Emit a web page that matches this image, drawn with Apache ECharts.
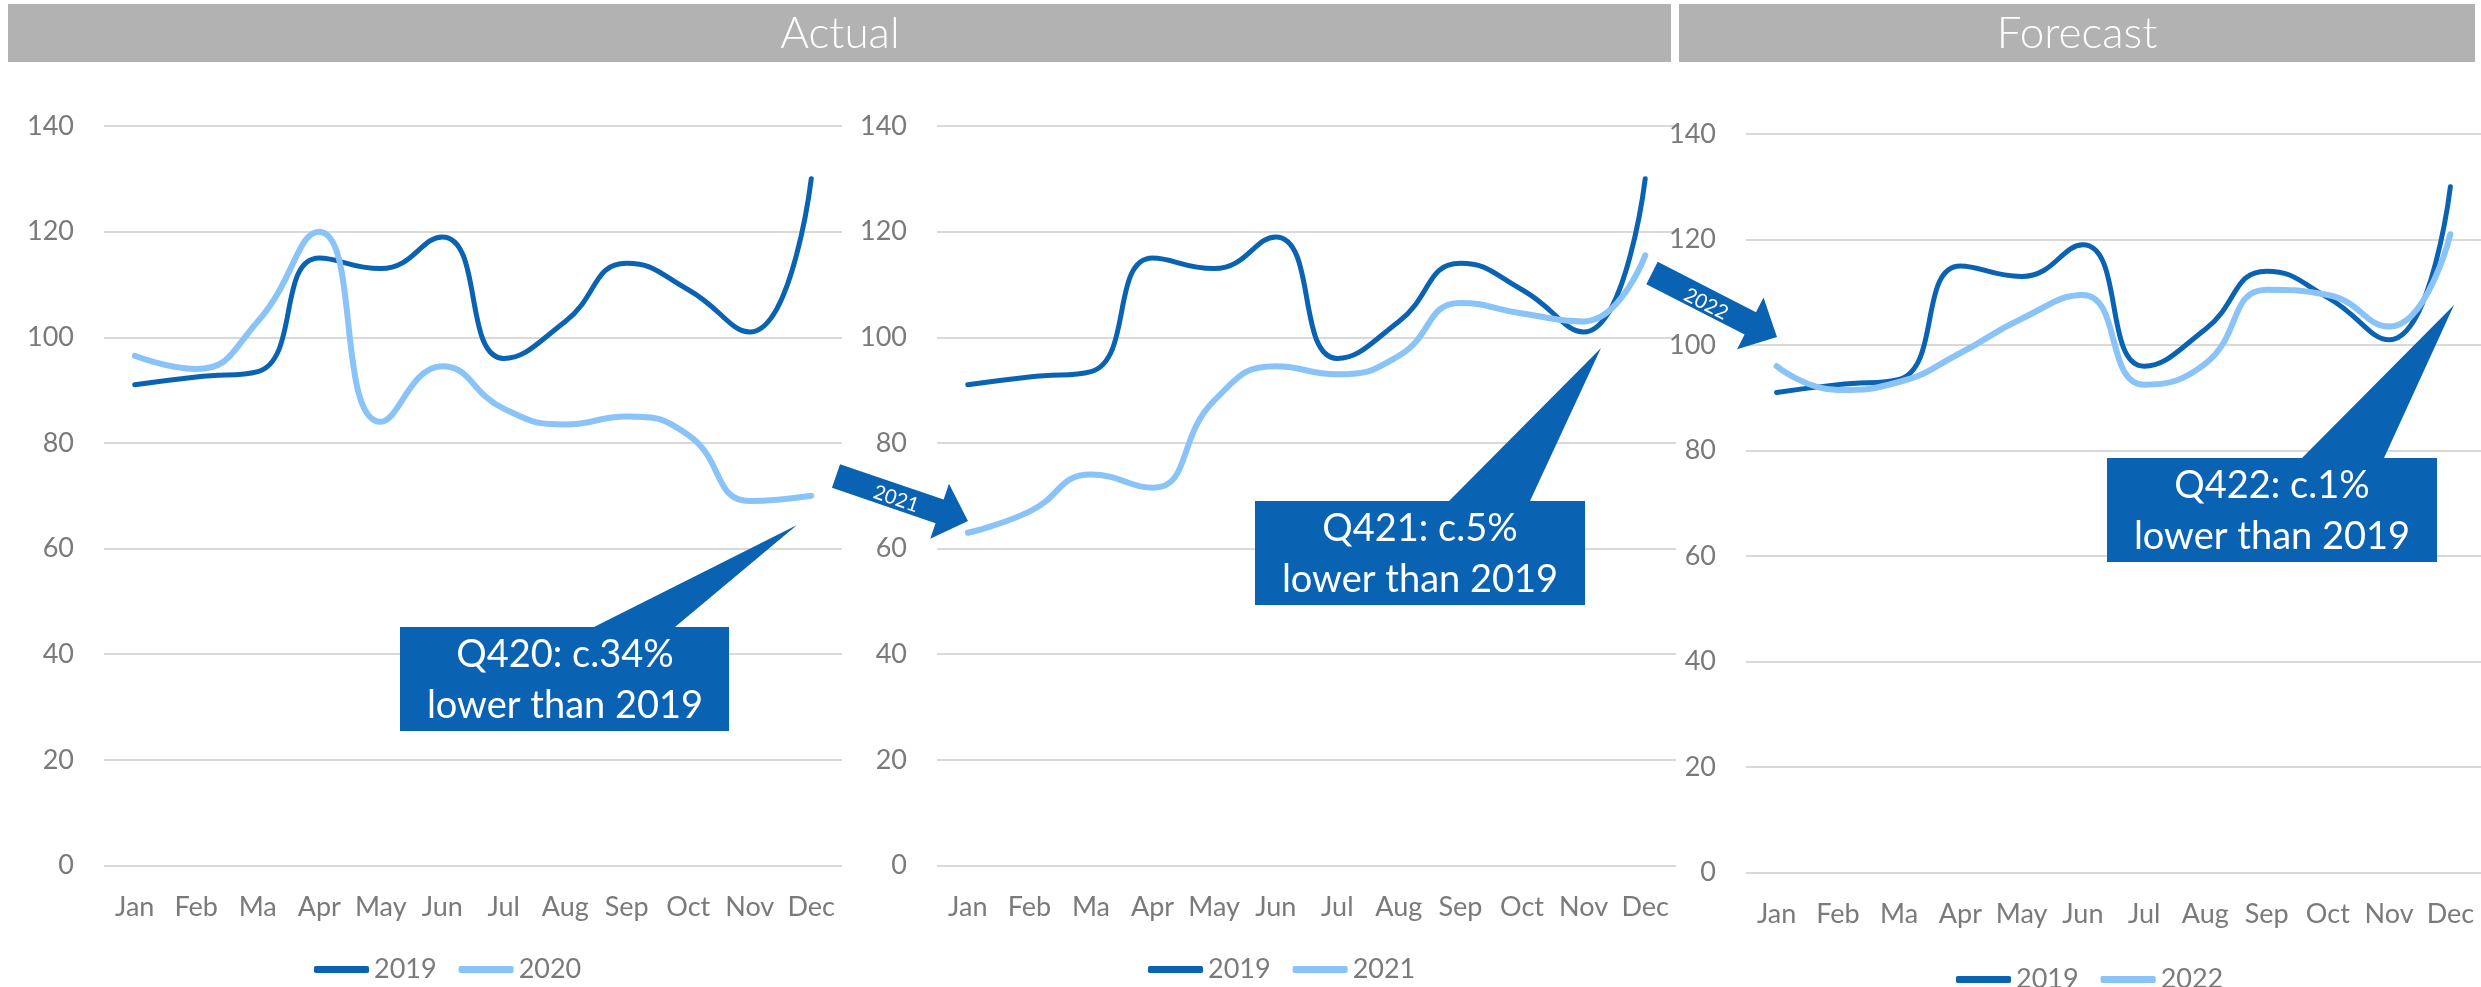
<!DOCTYPE html>
<html>
<head>
<meta charset="utf-8">
<script src="https://cdn.jsdelivr.net/npm/echarts@6/dist/echarts.min.js"></script>
<style>
html,body{margin:0;padding:0;background:#fff;}
#chart{width:2481px;height:987px;}
</style>
</head>
<body>
<div id="chart"></div>
<script>
// ---- data ----
const months = ['Jan','Feb','Ma','Apr','May','Jun','Jul','Aug','Sep','Oct','Nov','Dec'];
const yMin = 0, yMax = 140, yStep = 20;
const v2019 = [91, 92.5, 93.5, 115, 113, 119, 96, 103, 114, 109, 101, 130];
const v2020 = [96.5, 94, 103, 120, 84, 94.5, 86.5, 83.5, 85, 81.5, 69, 70];
const v2021 = [63, 67, 74, 71.5, 88, 94.5, 93, 96.5, 106.5, 104.5, 103, 115.5];
const v2022 = [96, 91.5, 93, 98.5, 105, 109.5, 92.5, 96.5, 110.5, 109.5, 103.5, 121];
const headers = ['Actual', 'Forecast'];
const callouts = ['Q420: c.34%\nlower than 2019', 'Q421: c.5%\nlower than 2019', 'Q422: c.1%\nlower than 2019'];
const arrowLabels = ['2021', '2022'];

// ---- style ----
const DARK = '#0A62B3';
const LIGHT = '#89C3F7';
const GRAY = '#7a7a7a';
const FONT = 'Lato, "Noto Sans", sans-serif';

const chart = echarts.init(document.getElementById('chart'));

const grids = [
  {left: 104, top: 126, width: 738, height: 739.5},
  {left: 937, top: 126, width: 739, height: 739.5},
  {left: 1746, top: 134, width: 740, height: 738.7}
];
const pairs = [['2019', v2019, '2020', v2020], ['2019', v2019, '2021', v2021], ['2019', v2019, '2022', v2022]];
const legendPos = [{left: 309, top: 951}, {left: 1143, top: 951}, {left: 1951, top: 961}];

const xAxes = grids.map((g, i) => ({
  type: 'category', gridIndex: i, data: months, boundaryGap: true,
  axisLine: {show: false}, axisTick: {show: false},
  axisLabel: {color: GRAY, fontFamily: FONT, fontSize: 27, margin: 28, interval: 0}
}));
const yAxes = grids.map((g, i) => ({
  type: 'value', gridIndex: i, min: yMin, max: yMax, interval: yStep,
  axisLine: {show: false}, axisTick: {show: false},
  axisLabel: {color: GRAY, fontFamily: FONT, fontSize: 27, margin: 30},
  splitLine: {lineStyle: {color: '#d9d9d9', width: 2}}
}));
const series = [];
pairs.forEach((p, i) => {
  series.push({type: 'line', name: p[0], data: p[1], xAxisIndex: i, yAxisIndex: i, smooth: 0.5,
    symbol: 'none', color: DARK, lineStyle: {width: 5, color: DARK, cap: 'round'}, z: 2});
  series.push({type: 'line', name: p[2], data: p[3], xAxisIndex: i, yAxisIndex: i, smooth: 0.5,
    symbol: 'none', color: LIGHT, lineStyle: {width: 6, color: LIGHT, cap: 'round'}, z: 3});
});
const legends = pairs.map((p, i) => ({
  data: [p[0], p[2]], left: legendPos[i].left, top: legendPos[i].top,
  icon: 'roundRect', itemWidth: 55, itemHeight: 7, itemGap: 22,
  textStyle: {color: GRAY, fontFamily: FONT, fontSize: 27}, selectedMode: false
}));

// ---- decorations ----
function arrowPts(S, T, bw, hl, hw) {
  const dx = T[0]-S[0], dy = T[1]-S[1], L = Math.hypot(dx, dy);
  const ux = dx/L, uy = dy/L, nx = -uy, ny = ux;
  const B = [T[0]-ux*hl, T[1]-uy*hl];
  return [
    [S[0]+nx*bw, S[1]+ny*bw], [B[0]+nx*bw, B[1]+ny*bw], [B[0]+nx*hw, B[1]+ny*hw], T,
    [B[0]-nx*hw, B[1]-ny*hw], [B[0]-nx*bw, B[1]-ny*bw], [S[0]-nx*bw, S[1]-ny*bw]
  ];
}
function arrow(S, T, label, tx, ty) {
  const ang = Math.atan2(T[1]-S[1], T[0]-S[0]);
  return [
    {type: 'polygon', shape: {points: arrowPts(S, T, 12.5, 30, 29)}, style: {fill: DARK}, z: 100},
    {type: 'text', x: tx, y: ty, rotation: -ang, z: 101,
      style: {text: label, x: 0, y: 0, fill: '#fff', font: '20px ' + FONT, align: 'center', verticalAlign: 'middle'}}
  ];
}
function callout(box, b1, b2, tip, text, cx, cy) {
  const [x0, y0, x1, y1] = box;
  return [
    {type: 'polygon', z: 100, style: {fill: DARK},
      shape: {points: [[x0, y0], [b1, y0], tip, [b2, y0], [x1, y0], [x1, y1], [x0, y1]]}},
    {type: 'text', x: cx, y: cy, z: 101,
      style: {text: text, x: 0, y: 0, fill: '#fff', font: '38px ' + FONT, lineHeight: 51, align: 'center', verticalAlign: 'middle'}}
  ];
}

const graphics = [
  {type: 'rect', shape: {x: 8, y: 4, width: 1663, height: 58}, style: {fill: '#b2b2b2'}, z: 50},
  {type: 'rect', shape: {x: 1679, y: 4, width: 796, height: 58}, style: {fill: '#b2b2b2'}, z: 50},
  {type: 'text', x: 840, y: 34, z: 51, style: {text: headers[0], fill: '#fff', font: '300 44px ' + FONT, align: 'center', verticalAlign: 'middle'}},
  {type: 'text', x: 2077, y: 34, z: 51, style: {text: headers[1], fill: '#fff', font: '300 44px ' + FONT, align: 'center', verticalAlign: 'middle'}},
  ...callout([400, 627, 729, 731], 594, 675, [797, 525], callouts[0], 565, 680),
  ...callout([1255, 501, 1585, 605], 1449, 1530, [1601, 348], callouts[1], 1420, 554),
  ...callout([2107, 458, 2437, 562], 2302, 2384, [2454, 305], callouts[2], 2272, 511),
  ...arrow([836, 476], [968, 521], arrowLabels[0], 896, 499),
  ...arrow([1652, 273], [1777, 337], arrowLabels[1], 1706, 304)
];

chart.setOption({
  animation: false,
  backgroundColor: '#fff',
  grid: grids,
  xAxis: xAxes,
  yAxis: yAxes,
  legend: legends,
  series: series,
  graphic: graphics
});
</script>
</body>
</html>
